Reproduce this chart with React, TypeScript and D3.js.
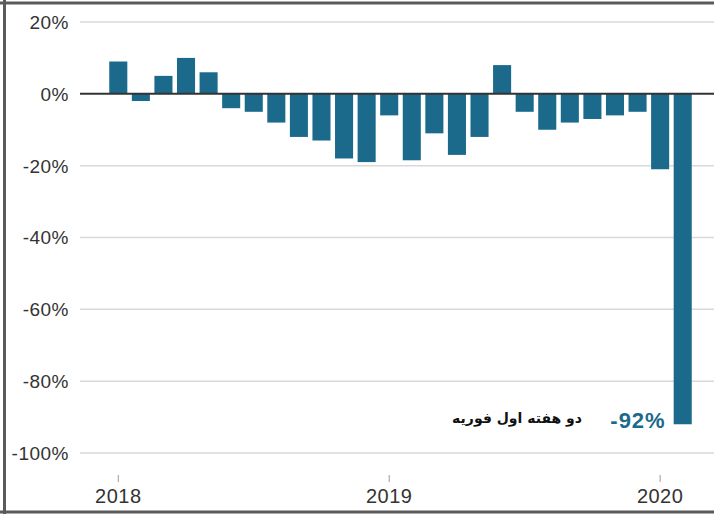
import React from "react";
import * as d3 from "d3";

// monthly change, Jan 2018 .. Feb 2020
const months = [
  "2018-01", "2018-02", "2018-03", "2018-04", "2018-05", "2018-06",
  "2018-07", "2018-08", "2018-09", "2018-10", "2018-11", "2018-12",
  "2019-01", "2019-02", "2019-03", "2019-04", "2019-05", "2019-06",
  "2019-07", "2019-08", "2019-09", "2019-10", "2019-11", "2019-12",
  "2020-01", "2020-02",
];
const values = [
  9, -2, 5, 10, 6, -4, -5, -8, -12, -13, -18, -19,
  -6, -18.5, -11, -17, -12, 8, -5, -10, -8, -7, -6, -5,
  -21, -92,
];
const yTicks = [20, 0, -20, -40, -60, -80, -100];
const yearTicks = ["2018-01", "2019-01", "2020-01"];
const yearLabels = ["2018", "2019", "2020"];
const annotationValue = "-92%";
const annotationText = "دو هفته اول فوریه";

const W = 714;
const H = 514;
const barColor = "#1b6a8c";

const App: React.FC = () => {
  const x = d3
    .scaleBand<string>()
    .domain(months)
    .range([107, 694])
    .paddingInner(0.2)
    .paddingOuter(0.1);

  const y = d3.scaleLinear().domain([-100, 20]).range([453, 22]);

  const gridLeft = 80;
  const last = months.length - 1;

  return (
    <svg
      width={W}
      height={H}
      style={{ position: "absolute", left: 0, top: 0, background: "#fff" }}
    >
      {/* grid */}
      {yTicks.map((t) => (
        <g key={t}>
          {t !== 0 && (
            <line
              x1={gridLeft}
              x2={W}
              y1={y(t)}
              y2={y(t)}
              stroke="#d9d9d9"
              strokeWidth={1.5}
            />
          )}
          <text
            x={69}
            y={y(t)}
            dy="0.36em"
            textAnchor="end"
            fontFamily="Liberation Sans, Arial, sans-serif"
            fontSize={19}
            letterSpacing={0.5}
            fill="#333"
          >
            {`${t}%`}
          </text>
        </g>
      ))}

      {/* bars */}
      {values.map((v, i) => (
        <rect
          key={months[i]}
          x={x(months[i])}
          width={x.bandwidth()}
          y={y(Math.max(0, v))}
          height={Math.abs(y(v) - y(0))}
          fill={barColor}
        />
      ))}

      {/* zero line */}
      <line
        x1={gridLeft}
        x2={W}
        y1={y(0)}
        y2={y(0)}
        stroke="#333"
        strokeWidth={2}
      />

      {/* year axis */}
      {yearTicks.map((m, i) => {
        const cx = (x(m) ?? 0) + x.bandwidth() / 2;
        return (
          <g key={m}>
            <line x1={cx} x2={cx} y1={475} y2={482} stroke="#999" strokeWidth={1} />
            <text
              x={cx}
              y={503}
              textAnchor="middle"
              fontFamily="Liberation Sans, Arial, sans-serif"
              fontSize={20}
              letterSpacing={0.5}
              fill="#333"
            >
              {yearLabels[i]}
            </text>
          </g>
        );
      })}

      {/* annotation */}
      <text
        x={(x(months[last]) ?? 0) - 8}
        y={y(values[last]) + 4}
        textAnchor="end"
        fontFamily="Liberation Sans, Arial, sans-serif"
        fontSize={22}
        fontWeight="bold"
        letterSpacing={1}
        fill={barColor}
      >
        {annotationValue}
      </text>
      <text
        x={582}
        y={y(values[last]) - 1}
        textAnchor="end"
        fontFamily="DejaVu Sans, sans-serif"
        fontSize={14}
        fontWeight="bold"
        fill="#111"
      >
        {annotationText}
      </text>

      {/* frame */}
      <line x1={4.5} x2={4.5} y1={0} y2={H} stroke="#5a5a5a" strokeWidth={3} />
      <line x1={0} x2={W} y1={3} y2={3} stroke="#5a5a5a" strokeWidth={3} />
      <line x1={0} x2={W} y1={512} y2={512} stroke="#5a5a5a" strokeWidth={3} />
    </svg>
  );
};

export default App;
